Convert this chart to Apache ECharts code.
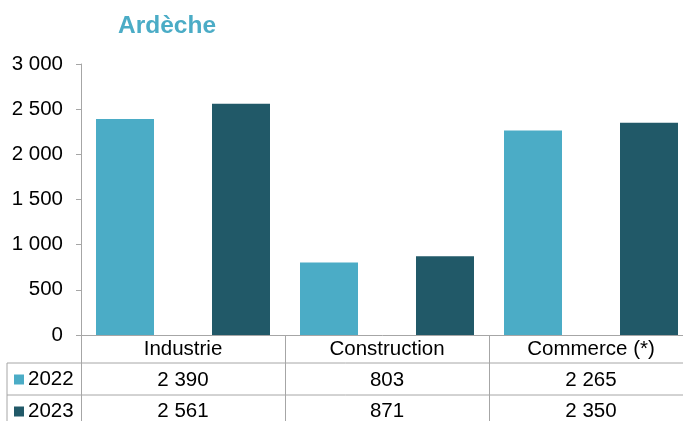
<!DOCTYPE html>
<html>
<head>
<meta charset="utf-8">
<script src="https://cdn.jsdelivr.net/npm/echarts@6/dist/echarts.min.js"></script>
<style>
  html, body { margin: 0; padding: 0; background: #fff; }
  #chart { width: 683px; height: 421px; }
</style>
</head>
<body>
<div id="chart"></div>
<script>
  var categories = ['Industrie', 'Construction', 'Commerce (*)']
  var values2022 = [2390, 803, 2265]
  var values2023 = [2561, 871, 2350]
  var seriesNames = ['2022', '2023']
  var yTicks = [0, 500, 1000, 1500, 2000, 2500, 3000]

  var COLOR_LIGHT = '#4BACC6'
  var COLOR_DARK = '#215968'
  var LINE = '#A6A6A6'
  var FONT = 'Liberation Sans, Arial, sans-serif'
  var FS = 20.5

  // grid bounds (the table sits under the plot)
  var gLeft = 81, gTop = 64, gBottom = 86, gRight = -10

  function fmt(v) {
    return String(v).replace(/\B(?=(\d{3})+(?!\d))/g, ' ')
  }

  var chart = echarts.init(document.getElementById('chart'))

  var tableRow1 = 363, tableRow2 = 395

  chart.setOption({
    animation: false,
    color: [COLOR_LIGHT, COLOR_DARK],
    title: {
      text: 'Ardèche',
      left: 113,
      top: 9,
      textStyle: {
        color: COLOR_LIGHT,
        fontFamily: FONT,
        fontWeight: 'bold',
        fontSize: 24.5
      }
    },
    legend: {
      data: seriesNames,
      orient: 'vertical',
      left: 14,
      top: 369,
      height: 120,
      padding: 0,
      itemWidth: 10,
      itemHeight: 10,
      itemGap: 11,
      icon: 'rect',
      selectedMode: false,
      itemStyle: { borderWidth: 0 },
      textStyle: {
        color: '#000',
        fontFamily: FONT,
        fontSize: FS,
        lineHeight: 20,
        padding: [0, 0, 0, -1]
      }
    },
    grid: {
      left: gLeft,
      right: gRight,
      top: gTop,
      bottom: gBottom,
      containLabel: false,
      outerBoundsMode: 'none'
    },
    xAxis: {
      type: 'category',
      data: categories,
      axisLine: {
        lineStyle: { color: LINE, width: 1 }
      },
      axisTick: {
        show: true,
        length: 90,
        lineStyle: { color: LINE, width: 1 }
      },
      axisLabel: {
        interval: 0,
        margin: -1,
        color: '#000',
        fontFamily: FONT,
        fontSize: FS,
        lineHeight: 31,
        formatter: function (value, idx) {
          return value + '\n' + fmt(values2022[idx]) + '\n' + fmt(values2023[idx])
        }
      }
    },
    yAxis: {
      type: 'value',
      min: yTicks[0],
      max: yTicks[yTicks.length - 1],
      interval: 500,
      axisLine: {
        show: true,
        lineStyle: { color: LINE, width: 1 }
      },
      axisTick: {
        show: true,
        length: 5,
        lineStyle: { color: LINE, width: 1 }
      },
      splitLine: { show: false },
      axisLabel: {
        margin: 18,
        color: '#000',
        fontFamily: FONT,
        fontSize: FS,
        formatter: function (v) { return fmt(v) }
      }
    },
    graphic: [
      {
        type: 'line',
        shape: { x1: 7, y1: tableRow1, x2: 700, y2: tableRow1 },
        style: { stroke: LINE, lineWidth: 1 }
      },
      {
        type: 'line',
        shape: { x1: 7, y1: tableRow2, x2: 700, y2: tableRow2 },
        style: { stroke: LINE, lineWidth: 1 }
      },
      {
        type: 'line',
        shape: { x1: 7, y1: tableRow1, x2: 7, y2: 430 },
        style: { stroke: LINE, lineWidth: 1 }
      }
    ],
    series: [
      {
        name: seriesNames[0],
        type: 'bar',
        barWidth: 58,
        barGap: '100%',
        data: values2022,
        itemStyle: { color: COLOR_LIGHT }
      },
      {
        name: seriesNames[1],
        type: 'bar',
        barWidth: 58,
        barGap: '100%',
        data: values2023,
        itemStyle: { color: COLOR_DARK }
      }
    ]
  })
</script>
</body>
</html>
